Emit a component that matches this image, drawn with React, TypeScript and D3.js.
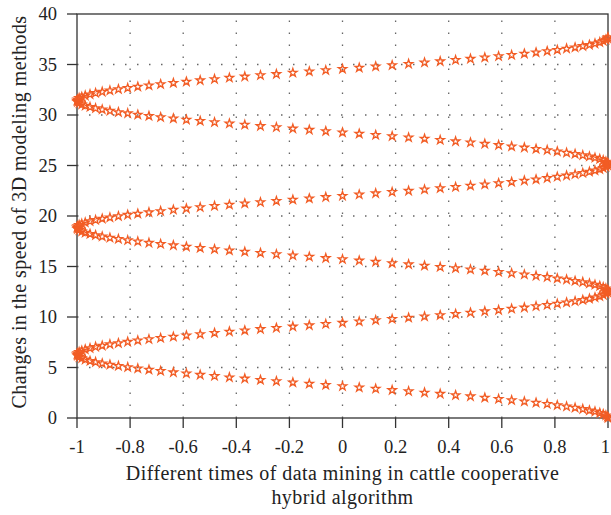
import * as d3 from 'd3';
import React from 'react';

// horizontal position of each star, read strand by strand from bottom to top
const xValues = [
    // strand 1 (1 -> -1)
    1, 0.998, 0.992, 0.982, 0.969, 0.951, 0.93, 0.905, 0.876, 0.844, 0.809, 0.771, 0.729, 0.685, 0.637, 0.588, 0.536,
    0.482, 0.426, 0.368, 0.309, 0.249, 0.187, 0.125, 0.063, 0, -0.063, -0.125, -0.187, -0.249, -0.309, -0.368, -0.426,
    -0.482, -0.536, -0.588, -0.637, -0.685, -0.729, -0.771, -0.809, -0.844, -0.876, -0.905, -0.93, -0.951, -0.969,
    -0.982, -0.992, -0.998, -1,
    // strand 2 (-1 -> 1)
    -0.998, -0.992, -0.982, -0.969, -0.951, -0.93, -0.905, -0.876, -0.844, -0.809, -0.771, -0.729, -0.685, -0.637,
    -0.588, -0.536, -0.482, -0.426, -0.368, -0.309, -0.249, -0.187, -0.125, -0.063, 0, 0.063, 0.125, 0.187, 0.249,
    0.309, 0.368, 0.426, 0.482, 0.536, 0.588, 0.637, 0.685, 0.729, 0.771, 0.809, 0.844, 0.876, 0.905, 0.93, 0.951,
    0.969, 0.982, 0.992, 0.998, 1,
    // strand 3
    0.998, 0.992, 0.982, 0.969, 0.951, 0.93, 0.905, 0.876, 0.844, 0.809, 0.771, 0.729, 0.685, 0.637, 0.588, 0.536,
    0.482, 0.426, 0.368, 0.309, 0.249, 0.187, 0.125, 0.063, 0, -0.063, -0.125, -0.187, -0.249, -0.309, -0.368, -0.426,
    -0.482, -0.536, -0.588, -0.637, -0.685, -0.729, -0.771, -0.809, -0.844, -0.876, -0.905, -0.93, -0.951, -0.969,
    -0.982, -0.992, -0.998, -1,
    // strand 4
    -0.998, -0.992, -0.982, -0.969, -0.951, -0.93, -0.905, -0.876, -0.844, -0.809, -0.771, -0.729, -0.685, -0.637,
    -0.588, -0.536, -0.482, -0.426, -0.368, -0.309, -0.249, -0.187, -0.125, -0.063, 0, 0.063, 0.125, 0.187, 0.249,
    0.309, 0.368, 0.426, 0.482, 0.536, 0.588, 0.637, 0.685, 0.729, 0.771, 0.809, 0.844, 0.876, 0.905, 0.93, 0.951,
    0.969, 0.982, 0.992, 0.998, 1,
    // strand 5
    0.998, 0.992, 0.982, 0.969, 0.951, 0.93, 0.905, 0.876, 0.844, 0.809, 0.771, 0.729, 0.685, 0.637, 0.588, 0.536,
    0.482, 0.426, 0.368, 0.309, 0.249, 0.187, 0.125, 0.063, 0, -0.063, -0.125, -0.187, -0.249, -0.309, -0.368, -0.426,
    -0.482, -0.536, -0.588, -0.637, -0.685, -0.729, -0.771, -0.809, -0.844, -0.876, -0.905, -0.93, -0.951, -0.969,
    -0.982, -0.992, -0.998, -1,
    // strand 6
    -0.998, -0.992, -0.982, -0.969, -0.951, -0.93, -0.905, -0.876, -0.844, -0.809, -0.771, -0.729, -0.685, -0.637,
    -0.588, -0.536, -0.482, -0.426, -0.368, -0.309, -0.249, -0.187, -0.125, -0.063, 0, 0.063, 0.125, 0.187, 0.249,
    0.309, 0.368, 0.426, 0.482, 0.536, 0.588, 0.637, 0.685, 0.729, 0.771, 0.809, 0.844, 0.876, 0.905, 0.93, 0.951,
    0.969, 0.982, 0.992, 0.998, 1,
];

// vertical position of each star
const yValues = [
    0.0, 0.13, 0.25, 0.38, 0.5, 0.63, 0.75, 0.88, 1.01, 1.13, 1.26, 1.38, 1.51, 1.63, 1.76, 1.88, 2.01, 2.14, 2.26,
    2.39, 2.51, 2.64, 2.76, 2.89, 3.02, 3.14, 3.27, 3.39, 3.52, 3.64, 3.77, 3.9, 4.02, 4.15, 4.27, 4.4, 4.52, 4.65,
    4.78, 4.9, 5.03, 5.15, 5.28, 5.4, 5.53, 5.65, 5.78, 5.91, 6.03, 6.16, 6.28,
    6.41, 6.53, 6.66, 6.79, 6.91, 7.04, 7.16, 7.29, 7.41, 7.54, 7.67, 7.79, 7.92, 8.04, 8.17, 8.29, 8.42, 8.55, 8.67,
    8.8, 8.92, 9.05, 9.17, 9.3, 9.42, 9.55, 9.68, 9.8, 9.93, 10.05, 10.18, 10.3, 10.43, 10.56, 10.68, 10.81, 10.93,
    11.06, 11.18, 11.31, 11.44, 11.56, 11.69, 11.81, 11.94, 12.06, 12.19, 12.32, 12.44, 12.57,
    12.69, 12.82, 12.94, 13.07, 13.19, 13.32, 13.45, 13.57, 13.7, 13.82, 13.95, 14.07, 14.2, 14.33, 14.45, 14.58,
    14.7, 14.83, 14.95, 15.08, 15.21, 15.33, 15.46, 15.58, 15.71, 15.83, 15.96, 16.08, 16.21, 16.34, 16.46, 16.59,
    16.71, 16.84, 16.96, 17.09, 17.22, 17.34, 17.47, 17.59, 17.72, 17.84, 17.97, 18.1, 18.22, 18.35, 18.47, 18.6,
    18.72, 18.85,
    18.98, 19.1, 19.23, 19.35, 19.48, 19.6, 19.73, 19.85, 19.98, 20.11, 20.23, 20.36, 20.48, 20.61, 20.73, 20.86,
    20.99, 21.11, 21.24, 21.36, 21.49, 21.61, 21.74, 21.87, 21.99, 22.12, 22.24, 22.37, 22.49, 22.62, 22.75, 22.87,
    23.0, 23.12, 23.25, 23.37, 23.5, 23.62, 23.75, 23.88, 24.0, 24.13, 24.25, 24.38, 24.5, 24.63, 24.76, 24.88, 25.01,
    25.13,
    25.26, 25.38, 25.51, 25.64, 25.76, 25.89, 26.01, 26.14, 26.26, 26.39, 26.52, 26.64, 26.77, 26.89, 27.02, 27.14,
    27.27, 27.39, 27.52, 27.65, 27.77, 27.9, 28.02, 28.15, 28.27, 28.4, 28.53, 28.65, 28.78, 28.9, 29.03, 29.15,
    29.28, 29.41, 29.53, 29.66, 29.78, 29.91, 30.03, 30.16, 30.28, 30.41, 30.54, 30.66, 30.79, 30.91, 31.04, 31.16,
    31.29, 31.42,
    31.54, 31.67, 31.79, 31.92, 32.04, 32.17, 32.29, 32.42, 32.55, 32.67, 32.8, 32.92, 33.05, 33.17, 33.3, 33.43,
    33.55, 33.68, 33.8, 33.93, 34.05, 34.18, 34.31, 34.43, 34.56, 34.68, 34.81, 34.93, 35.06, 35.19, 35.31, 35.44,
    35.56, 35.69, 35.81, 35.94, 36.07, 36.19, 36.32, 36.44, 36.57, 36.69, 36.82, 36.94, 37.07, 37.2, 37.32, 37.45,
    37.57, 37.7,
];

const xTicks = [-1, -0.8, -0.6, -0.4, -0.2, 0, 0.2, 0.4, 0.6, 0.8, 1];
const yTicks = [0, 5, 10, 15, 20, 25, 30, 35, 40];

const xTitle = ['Different times of data mining in cattle cooperative', 'hybrid algorithm'];
const yTitle = 'Changes in the speed of 3D modeling methods';

const W = 611;
const H = 515;
const FONT = '"Liberation Serif", "DejaVu Serif", serif';
const AXIS = '#333';
const STAR = '#f25c24';

export default function App() {
    const x = d3.scaleLinear().domain([-1, 1]).range([77, 608]);
    const y = d3.scaleLinear().domain([0, 40]).range([418, 14]);
    const starPath = d3.symbol(d3.symbolStar, 22)() as string;

    const n = Math.min(xValues.length, yValues.length);
    const points = d3.range(n).map((i) => [xValues[i], yValues[i]]);

    const [x0, x1] = x.range();
    const [y0, y1] = y.range();
    const lastTick = xTicks[xTicks.length - 1];

    return (
        <svg
            width={W}
            height={H}
            style={{ position: 'absolute', left: 0, top: 0, background: '#fff' }}
            fontFamily={FONT}
        >
            {/* grid */}
            <g stroke="#666" strokeWidth={1.3} strokeDasharray="1.5 10.5">
                {xTicks.slice(1, -1).map((t) => (
                    <line key={'gx' + t} x1={x(t)} x2={x(t)} y1={y0} y2={y1} />
                ))}
                {yTicks.slice(1, -1).map((t) => (
                    <line key={'gy' + t} x1={x0} x2={x1} y1={y(t)} y2={y(t)} />
                ))}
            </g>

            {/* box */}
            <rect
                x={x0}
                y={y1}
                width={x1 - x0}
                height={y0 - y1}
                fill="none"
                stroke={AXIS}
                strokeWidth={1.3}
            />

            {/* ticks */}
            <g stroke={AXIS} strokeWidth={1.3}>
                {xTicks.map((t) => (
                    <line key={'tx' + t} x1={x(t)} x2={x(t)} y1={y0} y2={y0 + 10} />
                ))}
                {yTicks.map((t) => (
                    <line key={'ty' + t} x1={x0 - 10} x2={x0} y1={y(t)} y2={y(t)} />
                ))}
            </g>

            <g fontSize={18.5} fill="#222">
                {xTicks.map((t) => (
                    <text
                        key={'lx' + t}
                        x={t === lastTick ? x(t) + 2 : x(t)}
                        y={y0 + 35}
                        textAnchor={t === lastTick ? 'end' : 'middle'}
                    >
                        {String(t)}
                    </text>
                ))}
                {yTicks.map((t) => (
                    <text key={'ly' + t} x={x0 - 20} y={y(t)} dy="0.35em" textAnchor="end">
                        {String(t)}
                    </text>
                ))}
            </g>

            {/* markers */}
            <g fill="none" stroke={STAR} strokeWidth={1.3}>
                {points.map((p, i) => (
                    <path key={i} d={starPath} transform={`translate(${x(p[0])},${y(p[1])})`} />
                ))}
            </g>

            {/* titles */}
            <g fontSize={20} fill="#222" textAnchor="middle" letterSpacing={0.45}>
                {xTitle.map((line, i) => (
                    <text key={line} x={(x0 + x1) / 2} y={480 + i * 24}>
                        {line}
                    </text>
                ))}
                <text transform={`translate(26,${(y0 + y1) / 2 - 4}) rotate(-90)`}>{yTitle}</text>
            </g>
        </svg>
    );
}
